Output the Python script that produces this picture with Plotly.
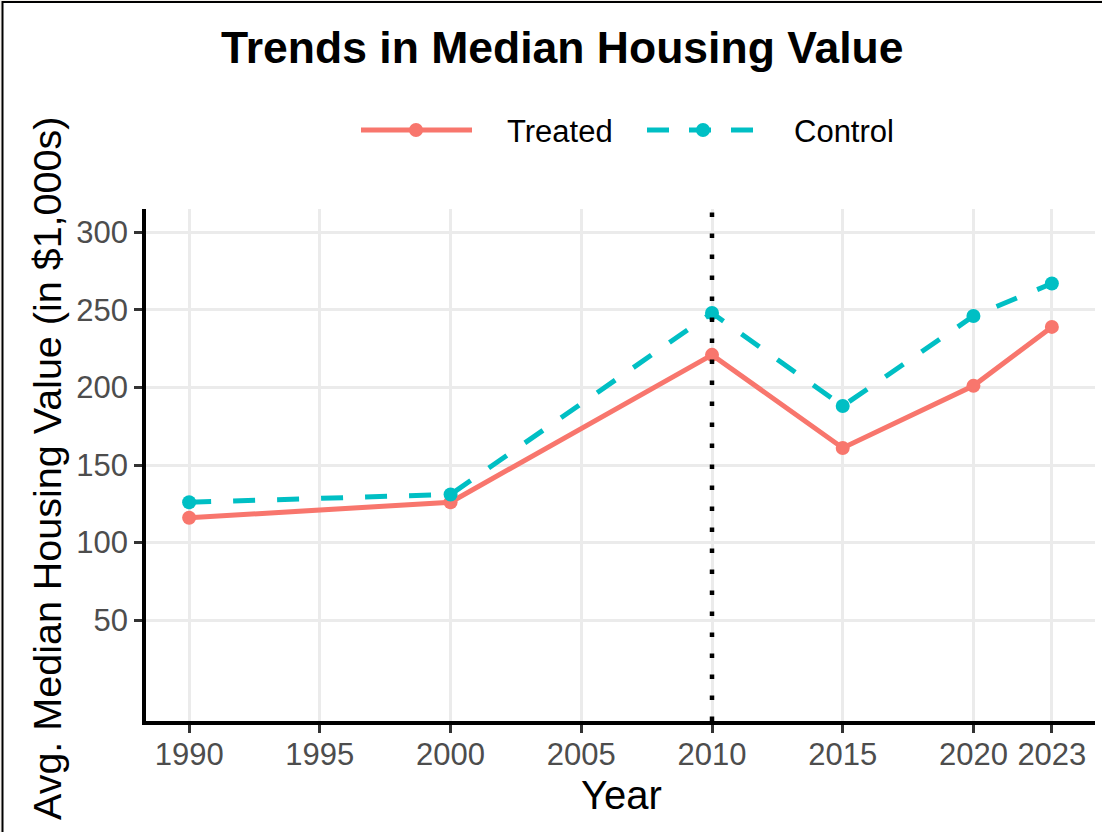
import plotly.graph_objects as go

years = [1990, 2000, 2010, 2015, 2020, 2023]
treated = [116, 126, 221, 161, 201, 239]
control = [126, 131, 248, 188, 246, 267]
x_ticks = [1990, 1995, 2000, 2005, 2010, 2015, 2020, 2023]
y_ticks = [50, 100, 150, 200, 250, 300]
treatment_year = 2010

TREAT_C = "#F8766D"
CTRL_C = "#00BFC4"
FONT = "Liberation Sans, Arial, Helvetica, sans-serif"

# plot area in pixels
L, R, T, B = 146, 1095, 209, 721
W, H = 1102, 832
PW, PH = R - L, B - T


def px(x):
    return (x - L) / PW


def py(y):
    return (B - y) / PH


fig = go.Figure()
fig.add_trace(go.Scatter(
    x=years, y=treated, mode="lines+markers", name="Treated",
    line=dict(color=TREAT_C, width=5),
    marker=dict(color=TREAT_C, size=14), showlegend=False))
fig.add_trace(go.Scatter(
    x=years, y=control, mode="lines+markers", name="Control",
    line=dict(color=CTRL_C, width=5, dash="22px,22px"),
    marker=dict(color=CTRL_C, size=14), showlegend=False))

shapes = []
# outer border of the figure background
shapes.append(dict(type="rect", xref="paper", yref="paper",
                   x0=px(2.5), x1=px(1115), y0=py(850), y1=py(2),
                   fillcolor="white", line=dict(color="black", width=2),
                   layer="below"))
# vertical dotted line at treatment year
shapes.append(dict(type="line", xref="x", yref="paper",
                   x0=treatment_year, x1=treatment_year, y0=0, y1=1,
                   line=dict(color="black", width=4.5, dash="4.5px,16.5px"),
                   layer="above"))

# manual legend
ly = py(130)
shapes.append(dict(type="line", xref="paper", yref="paper",
                   x0=px(361), x1=px(472), y0=ly, y1=ly,
                   line=dict(color=TREAT_C, width=5)))
for a, b in [(647, 669), (689, 711), (731, 753)]:
    shapes.append(dict(type="line", xref="paper", yref="paper",
                       x0=px(a), x1=px(b), y0=ly, y1=ly,
                       line=dict(color=CTRL_C, width=5)))
for cx, col in [(416, TREAT_C), (703, CTRL_C)]:
    shapes.append(dict(type="circle", xref="paper", yref="paper",
                       xsizemode="pixel", ysizemode="pixel",
                       xanchor=px(cx), yanchor=ly,
                       x0=-7, x1=7, y0=-7, y1=7,
                       fillcolor=col, line=dict(width=0)))

annotations = [
    dict(text="Treated", xref="paper", yref="paper", x=px(505), y=py(131),
         xanchor="left", yanchor="middle", showarrow=False,
         font=dict(family=FONT, size=31, color="black")),
    dict(text="Control", xref="paper", yref="paper", x=px(792), y=py(131),
         xanchor="left", yanchor="middle", showarrow=False,
         font=dict(family=FONT, size=31, color="black")),
    dict(text="Year", xref="paper", yref="paper", x=px(621), y=py(795),
         xanchor="center", yanchor="middle", showarrow=False,
         font=dict(family=FONT, size=40, color="black")),
    dict(text="Avg. Median Housing Value (in $1,000s)", xref="paper", yref="paper",
         x=px(47), y=py(469), textangle=-90,
         xanchor="center", yanchor="middle", showarrow=False,
         font=dict(family=FONT, size=39.5, color="black")),
    dict(text="Trends in Median Housing Value", xref="paper", yref="paper",
         x=px(562), y=py(47), xanchor="center", yanchor="middle", showarrow=False,
         font=dict(family=FONT, size=44.5, color="black", weight="bold")),
]

axis_common = dict(
    showgrid=True, gridcolor="#EBEBEB", gridwidth=2.5,
    zeroline=False, showline=True, linecolor="black", linewidth=3.5,
    ticks="outside", ticklen=8, tickwidth=2.5, tickcolor="#333333",
    tickfont=dict(family=FONT, size=31, color="#4D4D4D"),
)

fig.update_layout(
    width=W, height=H,
    margin=dict(l=L, r=W - R, t=T, b=H - B),
    paper_bgcolor="#F4F1ED",
    plot_bgcolor="rgba(0,0,0,0)",
    shapes=shapes,
    annotations=annotations,
    showlegend=False,
    xaxis=dict(range=[1988.35, 2024.65], tickvals=x_ticks,
               ticktext=[str(v) for v in x_ticks], ticklabelstandoff=-5,
               **axis_common),
    yaxis=dict(range=[-15, 315], tickvals=y_ticks,
               ticktext=[str(v) for v in y_ticks], **axis_common),
)

fig.write_html("out.html", config={"displayModeBar": False},
               post_script="document.body.style.margin='0';")
